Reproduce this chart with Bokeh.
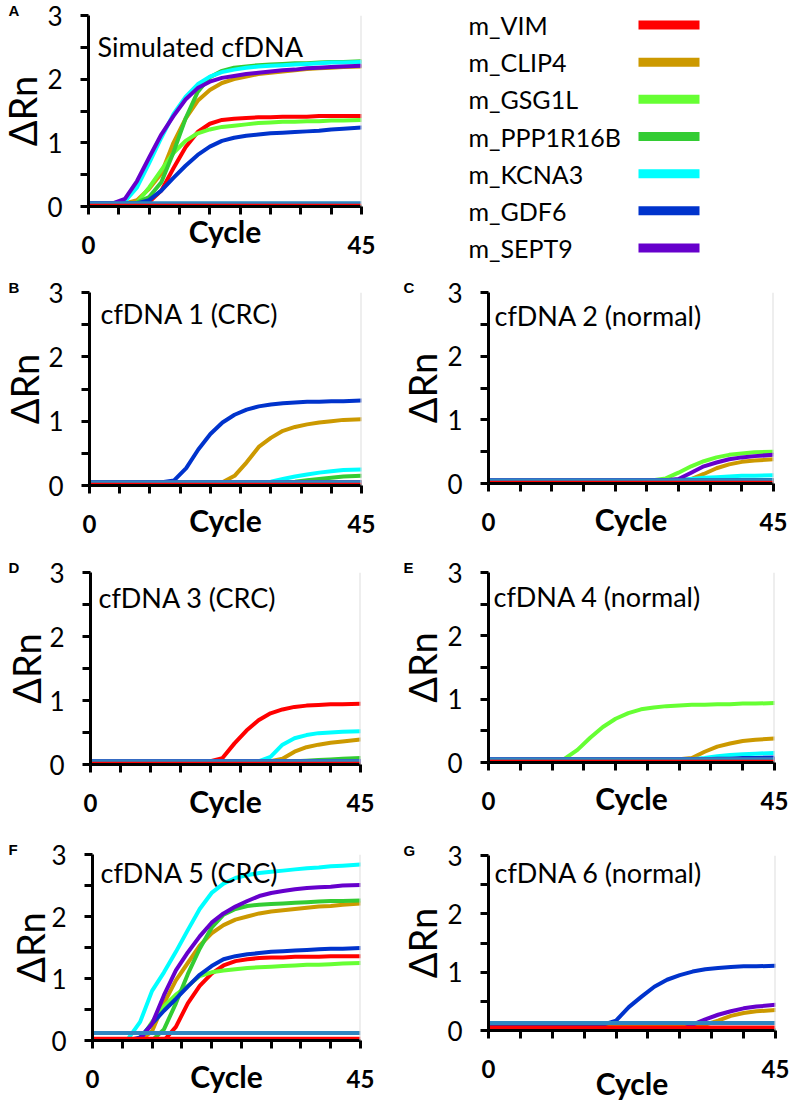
from bokeh.plotting import figure
from bokeh.layouts import column, row
from bokeh.models import Range1d, FixedTicker, Label, Span, Title
from bokeh.embed import file_html
from bokeh.resources import INLINE
from bokeh.core.properties import value

# ---------------- data ----------------
GENES = ["m_VIM", "m_CLIP4", "m_GSG1L", "m_PPP1R16B", "m_KCNA3", "m_GDF6", "m_SEPT9"]
COLORS = ["#FF0000", "#CC9900", "#66FF33", "#33CC33", "#00FFFF", "#0033CC", "#6600CC"]
CYCLES = [0, 4, 6, 8, 10, 12, 14, 16, 18, 20, 22, 24, 26, 28, 30, 32, 34, 36, 38, 40, 42, 45]

Y_TICKS = [0, 0.5, 1, 1.5, 2, 2.5, 3]
Y_LABELS = ["0", "", "1", "", "2", "", "3"]
X_TICKS = [0, 5, 10, 15, 20, 25, 30, 35, 40, 45]
X_LABELS = ["0", "", "", "", "", "", "", "", "", "45"]

PANEL_TITLES = ["Simulated cfDNA", "cfDNA 1 (CRC)", "cfDNA 2 (normal)", "cfDNA 3 (CRC)",
                "cfDNA 4 (normal)", "cfDNA 5 (CRC)", "cfDNA 6 (normal)"]
PANEL_LETTERS = ["A", "B", "C", "D", "E", "F", "G"]
THRESHOLDS = [0.05, 0.05, 0.05, 0.05, 0.05, 0.12, 0.13]
NTC_LEVELS = [0.01, 0.01, 0.01, 0.01, 0.01, 0.03, 0.05]

panel_A = {
    "m_VIM":      [0.05, 0.05, 0.05, 0.05, 0.07, 0.25, 0.60, 0.93, 1.17, 1.30, 1.36, 1.38, 1.39, 1.40, 1.40, 1.41, 1.41, 1.41, 1.42, 1.42, 1.42, 1.42],
    "m_CLIP4":    [0.05, 0.05, 0.05, 0.10, 0.28, 0.52, 1.00, 1.38, 1.66, 1.83, 1.94, 2.00, 2.04, 2.08, 2.10, 2.12, 2.14, 2.16, 2.17, 2.18, 2.19, 2.20],
    "m_GSG1L":    [0.05, 0.05, 0.05, 0.06, 0.30, 0.57, 0.84, 1.03, 1.15, 1.21, 1.25, 1.27, 1.29, 1.31, 1.32, 1.33, 1.33, 1.34, 1.34, 1.35, 1.35, 1.36],
    "m_PPP1R16B": [0.05, 0.05, 0.05, 0.06, 0.15, 0.38, 0.85, 1.38, 1.80, 2.03, 2.13, 2.18, 2.20, 2.22, 2.23, 2.24, 2.25, 2.25, 2.26, 2.27, 2.27, 2.28],
    "m_KCNA3":    [0.05, 0.05, 0.08, 0.30, 0.68, 1.08, 1.45, 1.72, 1.92, 2.04, 2.11, 2.15, 2.18, 2.20, 2.21, 2.22, 2.23, 2.24, 2.25, 2.26, 2.26, 2.27],
    "m_GDF6":     [0.05, 0.05, 0.05, 0.05, 0.10, 0.25, 0.45, 0.64, 0.81, 0.94, 1.03, 1.08, 1.11, 1.13, 1.15, 1.16, 1.17, 1.18, 1.19, 1.21, 1.22, 1.24],
    "m_SEPT9":    [0.05, 0.05, 0.12, 0.40, 0.77, 1.13, 1.42, 1.68, 1.86, 1.96, 2.02, 2.05, 2.08, 2.10, 2.12, 2.14, 2.15, 2.17, 2.18, 2.19, 2.20, 2.21],
}
panel_B = {
    "m_VIM":      [0.05] * 22,
    "m_CLIP4":    [0.05, 0.05, 0.05, 0.05, 0.05, 0.05, 0.05, 0.05, 0.05, 0.05, 0.05, 0.15, 0.36, 0.60, 0.74, 0.85, 0.91, 0.95, 0.98, 1.00, 1.02, 1.03],
    "m_GSG1L":    [0.05] * 22,
    "m_PPP1R16B": [0.05, 0.05, 0.05, 0.05, 0.05, 0.05, 0.05, 0.05, 0.05, 0.05, 0.05, 0.05, 0.05, 0.05, 0.05, 0.05, 0.06, 0.08, 0.10, 0.12, 0.14, 0.15],
    "m_KCNA3":    [0.05, 0.05, 0.05, 0.05, 0.05, 0.05, 0.05, 0.05, 0.05, 0.05, 0.05, 0.05, 0.05, 0.05, 0.06, 0.10, 0.14, 0.17, 0.20, 0.22, 0.24, 0.25],
    "m_GDF6":     [0.05, 0.05, 0.05, 0.05, 0.05, 0.05, 0.08, 0.27, 0.56, 0.80, 0.98, 1.10, 1.18, 1.23, 1.26, 1.28, 1.29, 1.30, 1.30, 1.31, 1.31, 1.32],
    "m_SEPT9":    [0.05] * 22,
}
panel_C = {
    "m_VIM":      [0.05] * 22,
    "m_CLIP4":    [0.05, 0.05, 0.05, 0.05, 0.05, 0.05, 0.05, 0.05, 0.05, 0.05, 0.05, 0.05, 0.05, 0.05, 0.05, 0.07, 0.15, 0.24, 0.30, 0.34, 0.36, 0.38],
    "m_GSG1L":    [0.05, 0.05, 0.05, 0.05, 0.05, 0.05, 0.05, 0.05, 0.05, 0.05, 0.05, 0.05, 0.05, 0.08, 0.17, 0.27, 0.35, 0.41, 0.45, 0.47, 0.49, 0.50],
    "m_PPP1R16B": [0.05] * 22,
    "m_KCNA3":    [0.05, 0.05, 0.05, 0.05, 0.05, 0.05, 0.05, 0.05, 0.05, 0.05, 0.05, 0.05, 0.05, 0.05, 0.05, 0.07, 0.09, 0.10, 0.11, 0.12, 0.12, 0.13],
    "m_GDF6":     [0.05] * 22,
    "m_SEPT9":    [0.05, 0.05, 0.05, 0.05, 0.05, 0.05, 0.05, 0.05, 0.05, 0.05, 0.05, 0.05, 0.05, 0.05, 0.07, 0.17, 0.27, 0.33, 0.38, 0.41, 0.43, 0.45],
}
panel_D = {
    "m_VIM":      [0.05, 0.05, 0.05, 0.05, 0.05, 0.05, 0.05, 0.05, 0.05, 0.05, 0.10, 0.33, 0.53, 0.69, 0.80, 0.86, 0.90, 0.92, 0.93, 0.94, 0.94, 0.95],
    "m_CLIP4":    [0.05, 0.05, 0.05, 0.05, 0.05, 0.05, 0.05, 0.05, 0.05, 0.05, 0.05, 0.05, 0.05, 0.05, 0.05, 0.09, 0.20, 0.27, 0.31, 0.34, 0.36, 0.39],
    "m_GSG1L":    [0.05] * 22,
    "m_PPP1R16B": [0.05, 0.05, 0.05, 0.05, 0.05, 0.05, 0.05, 0.05, 0.05, 0.05, 0.05, 0.05, 0.05, 0.05, 0.05, 0.05, 0.05, 0.06, 0.07, 0.08, 0.09, 0.10],
    "m_KCNA3":    [0.05, 0.05, 0.05, 0.05, 0.05, 0.05, 0.05, 0.05, 0.05, 0.05, 0.05, 0.05, 0.05, 0.05, 0.12, 0.31, 0.41, 0.46, 0.49, 0.50, 0.51, 0.52],
    "m_GDF6":     [0.05] * 22,
    "m_SEPT9":    [0.05] * 22,
}
panel_E = {
    "m_VIM":      [0.05] * 22,
    "m_CLIP4":    [0.05, 0.05, 0.05, 0.05, 0.05, 0.05, 0.05, 0.05, 0.05, 0.05, 0.05, 0.05, 0.05, 0.05, 0.05, 0.07, 0.17, 0.25, 0.30, 0.34, 0.36, 0.38],
    "m_GSG1L":    [0.05, 0.05, 0.05, 0.05, 0.05, 0.06, 0.20, 0.39, 0.56, 0.69, 0.78, 0.84, 0.87, 0.89, 0.90, 0.91, 0.91, 0.92, 0.92, 0.93, 0.93, 0.94],
    "m_PPP1R16B": [0.05] * 22,
    "m_KCNA3":    [0.05, 0.05, 0.05, 0.05, 0.05, 0.05, 0.05, 0.05, 0.05, 0.05, 0.05, 0.05, 0.05, 0.05, 0.05, 0.05, 0.07, 0.10, 0.12, 0.13, 0.14, 0.15],
    "m_GDF6":     [0.05, 0.05, 0.05, 0.05, 0.05, 0.05, 0.05, 0.05, 0.05, 0.05, 0.05, 0.05, 0.05, 0.05, 0.05, 0.05, 0.05, 0.06, 0.06, 0.07, 0.07, 0.08],
    "m_SEPT9":    [0.05] * 22,
}
panel_F = {
    "m_VIM":      [0.00, 0.00, 0.00, 0.00, 0.00, 0.00, 0.22, 0.60, 0.88, 1.08, 1.21, 1.28, 1.31, 1.33, 1.34, 1.34, 1.35, 1.35, 1.35, 1.36, 1.36, 1.36],
    "m_CLIP4":    [0.00, 0.00, 0.00, 0.00, 0.15, 0.60, 0.97, 1.25, 1.53, 1.73, 1.86, 1.95, 2.00, 2.05, 2.08, 2.10, 2.12, 2.14, 2.16, 2.17, 2.19, 2.21],
    "m_GSG1L":    [0.00, 0.00, 0.00, 0.00, 0.30, 0.55, 0.74, 0.88, 1.04, 1.10, 1.13, 1.15, 1.17, 1.18, 1.19, 1.20, 1.21, 1.22, 1.22, 1.23, 1.24, 1.25],
    "m_PPP1R16B": [0.00, 0.00, 0.00, 0.00, 0.00, 0.18, 0.60, 1.07, 1.48, 1.82, 2.03, 2.12, 2.17, 2.19, 2.20, 2.21, 2.22, 2.23, 2.24, 2.25, 2.25, 2.26],
    "m_KCNA3":    [0.00, 0.00, 0.03, 0.30, 0.80, 1.10, 1.43, 1.78, 2.12, 2.38, 2.53, 2.62, 2.67, 2.70, 2.72, 2.74, 2.76, 2.78, 2.79, 2.81, 2.82, 2.84],
    "m_GDF6":     [0.00, 0.00, 0.00, 0.05, 0.27, 0.48, 0.67, 0.87, 1.06, 1.20, 1.31, 1.36, 1.39, 1.41, 1.43, 1.44, 1.45, 1.46, 1.47, 1.48, 1.48, 1.49],
    "m_SEPT9":    [0.00, 0.00, 0.00, 0.02, 0.27, 0.73, 1.13, 1.42, 1.68, 1.90, 2.05, 2.16, 2.25, 2.33, 2.38, 2.41, 2.44, 2.46, 2.47, 2.48, 2.50, 2.51],
}
panel_G = {
    "m_VIM":      [0.00] * 22,
    "m_CLIP4":    [0.10, 0.10, 0.10, 0.10, 0.10, 0.10, 0.10, 0.10, 0.10, 0.10, 0.10, 0.10, 0.10, 0.10, 0.10, 0.10, 0.10, 0.17, 0.25, 0.30, 0.33, 0.35],
    "m_GSG1L":    [0.00] * 22,
    "m_PPP1R16B": [0.00] * 22,
    "m_KCNA3":    [0.00] * 22,
    "m_GDF6":     [0.10, 0.10, 0.10, 0.10, 0.10, 0.10, 0.10, 0.10, 0.10, 0.17, 0.40, 0.58, 0.75, 0.87, 0.95, 1.01, 1.05, 1.07, 1.09, 1.10, 1.10, 1.11],
    "m_SEPT9":    [0.00, 0.00, 0.00, 0.00, 0.00, 0.00, 0.00, 0.00, 0.00, 0.00, 0.00, 0.00, 0.00, 0.00, 0.00, 0.10, 0.19, 0.27, 0.33, 0.38, 0.41, 0.44],
}
PANELS = [panel_A, panel_B, panel_C, panel_D, panel_E, panel_F, panel_G]

FONT = "Lato"

# layout: (fig_w, fig_h, left, right, top, bottom, cycle label standoff, y-title standoff)
GEOM = [
    (400, 270, 88, 39, 15, 64, -44, -4),
    (400, 280, 89, 39, 22, 65, -34, -6),
    (391, 280, 88, 18, 22, 67, -33, -4),
    (400, 281, 90, 40, 22, 67, -32, -8),
    (391, 281, 88, 17, 22, 69, -33, -4),
    (400, 272, 92, 40, 23, 63, -33, -12),
    (391, 272, 88, 16, 24, 72, -16, -4),
]
# title baseline offsets in px relative to frame (left, top); letter x relative to frame left
TITLE_OFF = [(9, 31), (11, 21), (6, 23), (8, 25), (5, 24), (8, 18), (6, 17)]
LETTER_DX = [-80, -81, -85, -82, -85, -84, -85]


def make_panel(i):
    fw, fh, bl, br, bt, bb, cyc_so, ytitle_so = GEOM[i]
    frame_w = fw - bl - br
    frame_h = fh - bt - bb
    p = figure(width=fw, height=fh, x_range=Range1d(0, 45), y_range=Range1d(0, 3),
               output_backend="svg", toolbar_location=None, frame_align=False,
               min_border_left=bl, min_border_right=br, min_border_top=bt, min_border_bottom=bb)
    p.outline_line_color = None
    p.grid.visible = False
    p.background_fill_color = "white"
    p.border_fill_color = "white"

    # panel letter as the plot title, pushed into the left border
    p.title.text = PANEL_LETTERS[i]
    p.title.align = "left"
    p.title.offset = LETTER_DX[i]
    p.title.standoff = -6
    p.title.vertical_align = "bottom"
    p.title.text_font = "Liberation Sans"
    p.title.text_font_style = "bold"
    p.title.text_font_size = "15px"
    p.title.text_color = "black"

    data = PANELS[i]
    for g, c in zip(GENES, COLORS):
        p.line(CYCLES, data[g], line_color=c, line_width=4, line_join="round", line_cap="round")
    p.line([CYCLES[0], CYCLES[-1]], [THRESHOLDS[i]] * 2, line_color="#2E86C1", line_width=4)
    p.line([CYCLES[0], CYCLES[-1]], [NTC_LEVELS[i]] * 2, line_color="#FF0000", line_width=4)

    p.add_layout(Span(location=45, dimension="height", line_color="#DDDDDD", line_width=2))

    for ax in (p.xaxis[0], p.yaxis[0]):
        ax.axis_line_width = 3
        ax.axis_line_color = "black"
        ax.major_tick_line_width = 3
        ax.major_tick_line_color = "black"
        ax.major_tick_in = 0
        ax.major_tick_out = 8
        ax.minor_tick_line_color = None
        ax.major_label_text_color = "black"
        ax.axis_label_text_color = "black"
        ax.major_label_text_font = FONT
        ax.axis_label_text_font = FONT

    yax = p.yaxis[0]
    yax.ticker = FixedTicker(ticks=Y_TICKS)
    yax.major_label_overrides = dict(zip(Y_TICKS, Y_LABELS))
    yax.major_label_text_font_size = "26px"
    yax.major_label_standoff = 18

    # y-axis name as a side title, so its reserved space can be tightened
    p.add_layout(Title(text="ΔRn", align="center", vertical_align="top", standoff=ytitle_so,
                       text_font=FONT, text_font_size="38px", text_font_style="normal",
                       text_color="black"), "left")

    xax = p.xaxis[0]
    xax.ticker = FixedTicker(ticks=X_TICKS)
    xax.major_label_overrides = dict(zip(X_TICKS, X_LABELS))
    xax.major_label_text_font_size = "24px"
    xax.major_label_text_font_style = "bold"
    xax.major_label_standoff = 21
    xax.axis_label = "Cycle"
    xax.axis_label_text_font_size = "30px"
    xax.axis_label_text_font_style = "bold"
    xax.axis_label_standoff = cyc_so

    sx = 45.0 / frame_w
    sy = 3.0 / frame_h
    tx, ty = TITLE_OFF[i]
    p.add_layout(Label(x=tx * sx, y=3 - ty * sy, text=PANEL_TITLES[i], text_font=FONT,
                       text_font_size="27px", text_color="black", text_baseline="alphabetic"))
    return p


panels = [make_panel(i) for i in range(7)]

# legend figure (labels left, colour bars right); row index runs top to bottom
rows_idx = list(range(len(GENES)))
leg = figure(width=391, height=270, x_range=Range1d(0, 391),
             y_range=Range1d(len(GENES) - 0.5, -0.5), frame_align=False,
             output_backend="svg", toolbar_location=None, x_axis_location=None, y_axis_location=None,
             min_border_left=0, min_border_right=0, min_border_top=6, min_border_bottom=4)
leg.outline_line_color = None
leg.grid.visible = False
leg.text(x=[68] * len(GENES), y=rows_idx, text=GENES, text_font=value(FONT), text_font_size="25px",
         text_baseline="middle", text_align="left", text_color="black")
leg.segment(x0=[238] * len(GENES), y0=rows_idx, x1=[299] * len(GENES), y1=rows_idx,
            line_color=COLORS, line_width=9)

layout = column(row(panels[0], leg), row(panels[1], panels[2]), row(panels[3], panels[4]),
                row(panels[5], panels[6]))

open("out.html", "w").write(file_html(layout, INLINE))
